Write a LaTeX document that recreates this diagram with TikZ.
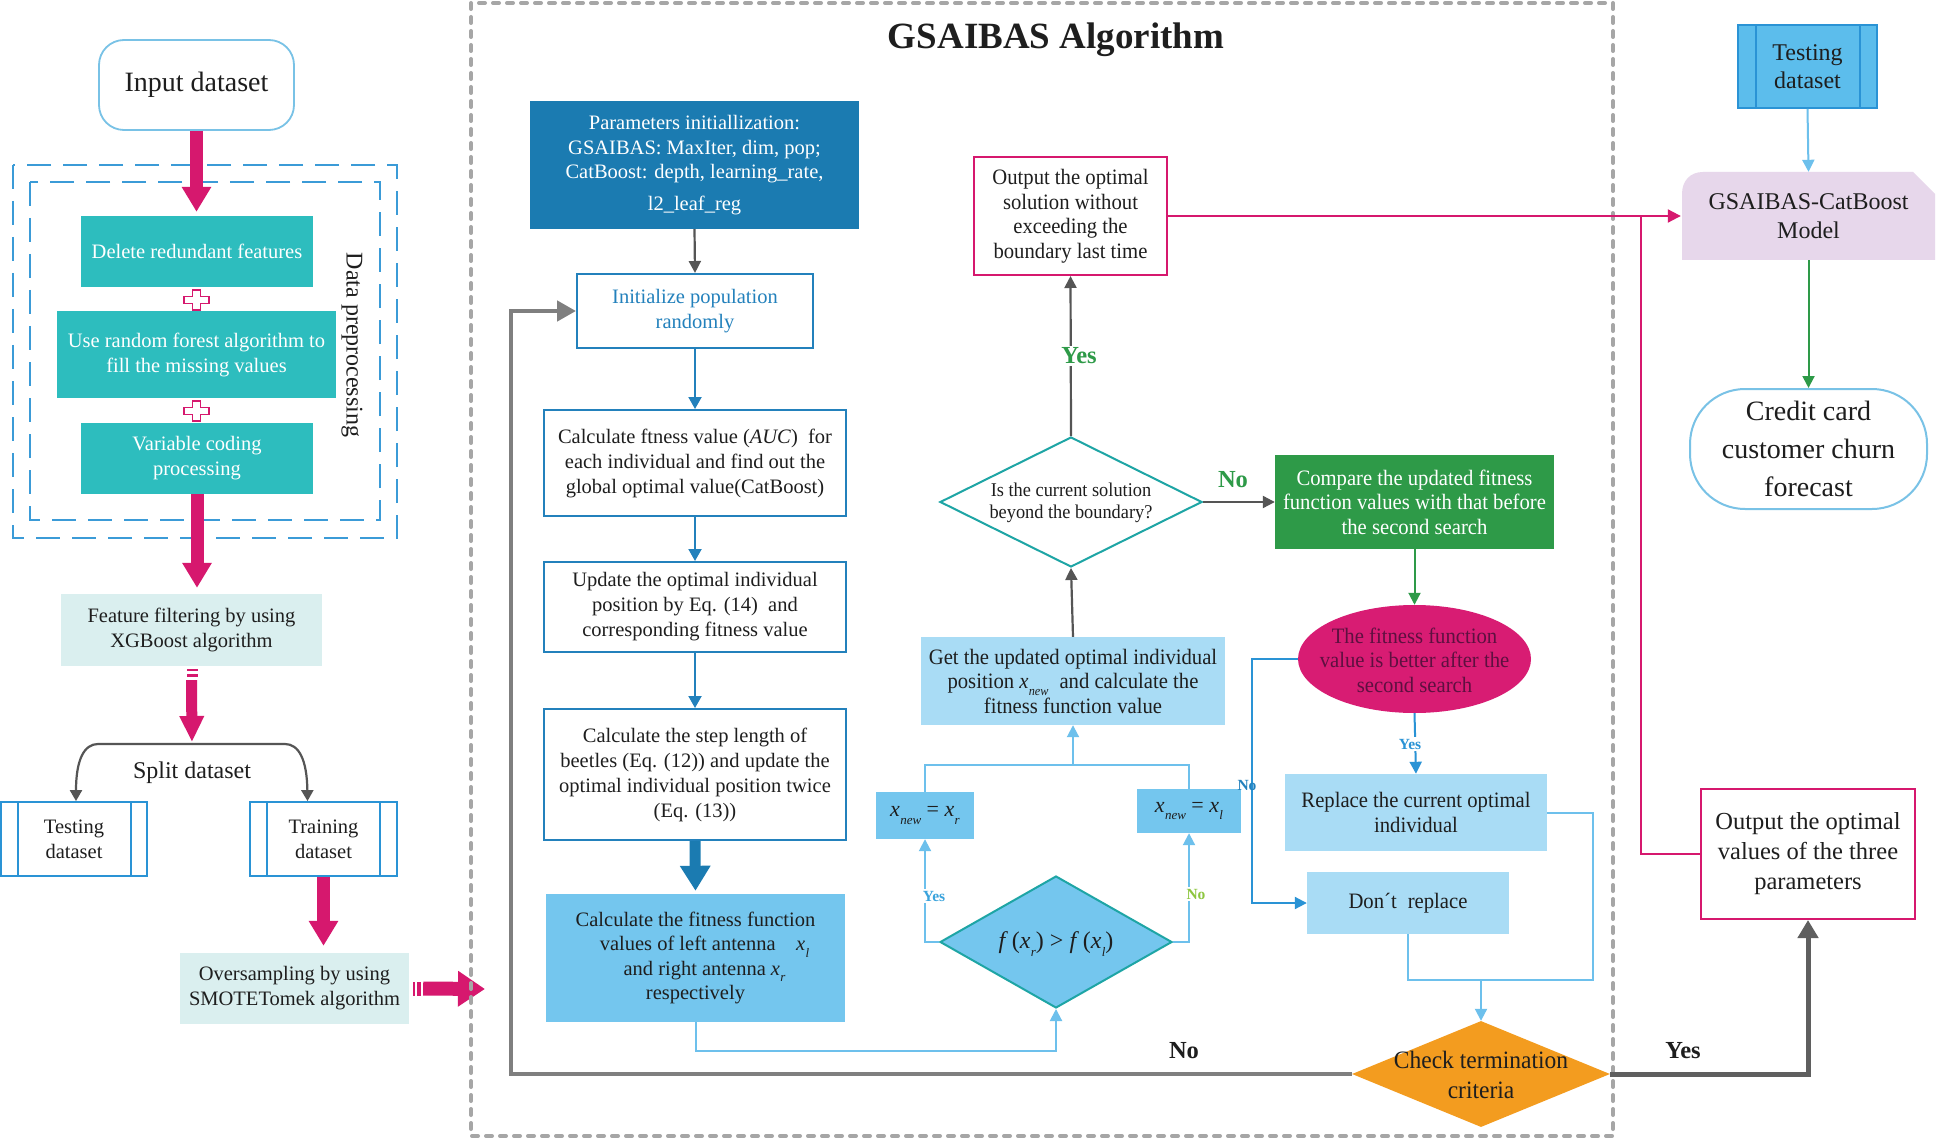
\documentclass[tikz,border=0pt]{standalone}
\usepackage{fontspec}
\setmainfont{Liberation Serif}
\newfontfamily\nfont[FakeStretch=0.94]{Liberation Serif}
\usetikzlibrary{arrows.meta,shapes.geometric,calc}
\definecolor{txt}{HTML}{1E1E1E}
\definecolor{mag}{HTML}{D6186E}
\definecolor{tealf}{HTML}{2DBDBE}
\definecolor{palef}{HTML}{DAEFEF}
\definecolor{bdashc}{HTML}{3B9BD7}
\definecolor{dblue}{HTML}{1B7BB1}
\definecolor{bord}{HTML}{2381BC}
\definecolor{sky}{HTML}{74C6EE}
\definecolor{lsky}{HTML}{A9DCF5}
\definecolor{lline}{HTML}{6DC0EC}
\definecolor{gthin}{HTML}{555555}
\definecolor{gloop}{HTML}{7F7F7F}
\definecolor{gright}{HTML}{5F5F5F}
\definecolor{grn}{HTML}{2E9A48}
\definecolor{orng}{HTML}{F39C1F}
\definecolor{lav}{HTML}{E7D7EB}
\definecolor{tealb}{HTML}{1EA5A5}
\definecolor{magE}{HTML}{D81C73}
\definecolor{ellT}{HTML}{5E1040}
\definecolor{lbord}{HTML}{79C2E6}
\definecolor{bord2}{HTML}{2A93D5}
\definecolor{sky2}{HTML}{5CBDEC}
\definecolor{ybl}{HTML}{3AA3DC}
\definecolor{nogr}{HTML}{8DC63F}
\definecolor{frameg}{HTML}{A6A6A6}
\newcommand\xsb[1]{\textit{x}\kern0.3pt\raisebox{-0.32em}{\fontsize{13}{13}\selectfont\itshape #1}}
\begin{document}
\begin{tikzpicture}[x=1pt,y=-1pt,
  every node/.style={inner sep=0pt, align=center, text=txt, font=\fontsize{20.5}{25}\selectfont},
  nf/.style={font=\nfont\fontsize{22}{24.5}\selectfont},
  tealbox/.style={fill=tealf, text=white},
  palebox/.style={fill=palef},
  procbox/.style={draw=bord2, line width=1.8pt, fill=white},
  wbox/.style={draw=bord, line width=2pt, fill=white, minimum width=302pt},
  bdash/.style={draw=bdashc, line width=1.8pt, dash pattern=on 24pt off 12pt},
  pk/.style={draw=mag, line width=13pt, -{Triangle[length=25pt,width=28pt]}},
  pks/.style={draw=mag, line width=11pt, -{Triangle[length=26pt,width=23pt]}},
  pkh/.style={draw=mag, line width=14pt, -{Triangle[length=27pt,width=34pt]}},
  garr/.style={draw=gthin, line width=2.2pt, -{Triangle[length=12pt,width=12pt]}},
  barr/.style={draw=bord, line width=2pt, -{Triangle[length=12pt,width=13pt]}},
  barrb/.style={draw=bord2, line width=2pt, -{Triangle[length=12pt,width=12pt]}},
  larr/.style={draw=lline, line width=2pt, -{Triangle[length=12pt,width=12pt]}},
  lpath/.style={draw=lline, line width=2pt},
  grarr/.style={draw=grn, line width=2pt, -{Triangle[length=12pt,width=12pt]}},
  marr/.style={draw=mag, line width=2pt, -{Triangle[length=13pt,width=13pt]}},
  mline/.style={draw=mag, line width=2pt},
  gthick/.style={draw=gloop, line width=4.5pt, -{Triangle[length=19pt,width=20pt]}},
  gthickr/.style={draw=gright, line width=5pt, -{Triangle[length=18pt,width=20pt]}},
  smalllab/.style={fill=white, inner sep=1.5pt, font=\bfseries\fontsize{15.5}{16}\selectfont},
  biglab/.style={font=\bfseries\fontsize{24.5}{26}\selectfont},
  plussign/.pic={\draw[draw=mag, line width=1.2pt, fill=white] (-4,-10) -- (4,-10) -- (4,-3.5) -- (12.5,-3.5) -- (12.5,3.5) -- (4,3.5) -- (4,10) -- (-4,10) -- (-4,3.5) -- (-12.5,3.5) -- (-12.5,-3.5) -- (-4,-3.5) -- cycle;}
]
\useasboundingbox[fill=white] (0,0) rectangle (1937,1139);

%% ---------------- left column ----------------
\draw[bdash] (13,165) rectangle (397,538);
\draw[bdash] (30,182) rectangle (380,520);
\node[rotate=-90, font=\fontsize{24}{28}\selectfont] (dp) at (352,345) {Data preprocessing};

\node[draw=lbord, line width=1.8pt, rounded corners=25pt, minimum width=195pt, minimum height=90pt, font=\fontsize{28}{32}\selectfont] (input) at (196.5,85) {Input dataset};
\node[tealbox, minimum width=232pt, minimum height=71pt] (del) at (197,251.5) {Delete redundant features};
\node[tealbox, minimum width=279pt, minimum height=87pt] (rf) at (196.5,354.5) {Use random forest algorithm to\\fill the missing values};
\node[tealbox, minimum width=232pt, minimum height=71pt] (var) at (197,458.5) {Variable coding\\processing};
\pic at (196.5,300) {plussign};
\pic at (196.5,411) {plussign};

\draw[pk, shorten >=4pt] (input.south) -- (input.south |- del.north);

\node[palebox, minimum width=261pt, minimum height=72pt] (feat) at (191.5,630) {Feature filtering by using\\XGBoost algorithm};
\draw[pk, shorten >=6pt] (var.south) -- (var.south |- feat.north);

\fill[mag] (186.5,669) rectangle (197.5,671);
\fill[mag] (186.5,674) rectangle (197.5,677);
\coordinate (splitc) at (192,744);

\node[procbox, minimum width=146pt, minimum height=74pt] (testL) at (74,839) {Testing\\dataset};
\draw[draw=bord2, line width=1.8pt] ([xshift=18pt]testL.north west) -- ([xshift=18pt]testL.south west);
\draw[draw=bord2, line width=1.8pt] ([xshift=-17pt]testL.north east) -- ([xshift=-17pt]testL.south east);
\node[procbox, minimum width=147pt, minimum height=74pt] (trainL) at (323.5,839) {Training\\dataset};
\draw[draw=bord2, line width=1.8pt] ([xshift=18pt]trainL.north west) -- ([xshift=18pt]trainL.south west);
\draw[draw=bord2, line width=1.8pt] ([xshift=-18pt]trainL.north east) -- ([xshift=-18pt]trainL.south east);

\draw[garr, -{Triangle[length=11pt,width=12pt]}] (splitc) -- (98,744) .. controls (84,744) and (76,760) .. ([xshift=2pt]testL.north);
\draw[garr, -{Triangle[length=11pt,width=12pt]}] (splitc) -- (285,744) .. controls (299,744) and (307,760) .. ([xshift=-16pt]trainL.north);
\draw[pks, shorten >=2pt] ([yshift=-14pt]feat.south) -- (splitc);
\node[font=\fontsize{24}{28}\selectfont] (splitlab) at (192,773) {Split dataset};

\node[palebox, minimum width=229pt, minimum height=71pt] (over) at (294.5,988.5) {Oversampling by using\\SMOTETomek algorithm};
\draw[pk, shorten >=7pt] (trainL.south) -- (trainL.south |- over.north);
\fill[mag] (413,982) rectangle (415,996);
\fill[mag] (417,982) rectangle (421,996);
\coordinate (mainin) at (485,989);
\draw[pkh] ([xshift=14pt]over.east) -- (mainin);

%% ---------------- main frame ----------------
\draw[draw=frameg, line width=4pt, dash pattern=on 6pt off 8pt, line cap=round] (471,3) rectangle (1613,1136);
\node[font=\bfseries\fontsize{37}{40}\selectfont] (title) at (1056,40) {GSAIBAS Algorithm};

\node[fill=dblue, text=white, minimum width=329pt, minimum height=128pt, font=\fontsize{20.5}{24.5}\selectfont] (param) at (694.5,165) {Parameters initiallization:\\GSAIBAS: MaxIter, dim, pop;\\CatBoost: depth, learning\_rate,\\[7pt]l2\_leaf\_reg};
\node[wbox, text=bord, minimum width=236pt, minimum height=74pt] (init) at (695,311) {Initialize population\\randomly};
\node[wbox, minimum height=106pt] (calc1) at (695,463) {Calculate ftness value (\textit{AUC})\enspace for\\each individual and find out the\\global optimal value(CatBoost)};
\node[wbox, minimum height=90pt] (upd) at (695,607) {Update the optimal individual\\position by Eq. (14)\enspace and\\corresponding fitness value};
\node[wbox, minimum height=131pt] (step) at (695,774.5) {Calculate the step length of\\beetles (Eq. (12)) and update the\\optimal individual position twice\\(Eq. (13))};
\node[fill=sky, minimum width=299pt, minimum height=128pt, font=\fontsize{20.5}{24.5}\selectfont] (calcf) at (695.5,958) {Calculate the fitness function\\\hspace*{18pt}values of left antenna\quad\xsb{l}\\\hspace*{18pt}and right antenna \xsb{r}\\respectively};

\draw[garr] (param.south) -- (init.north);
\draw[barr] (init.south) -- (calc1.north);
\draw[barr] (calc1.south) -- (upd.north);
\draw[barr] (upd.south) -- (step.north);
\draw[draw=dblue, line width=11pt, -{Triangle[length=25pt,width=29pt]}, shorten >=3pt] (step.south) -- (calcf.north);

% f diamond and x boxes
\node[diamond, draw=tealb, line width=2pt, fill=sky, minimum width=232pt, minimum height=132pt] (fd) at (1056,942) {};
\node[font=\fontsize{24}{26}\selectfont] (fdt) at (1056,944) {\textit{f}\,(\xsb{r}) > \textit{f}\,(\xsb{l})};
\node[fill=sky, minimum width=98pt, minimum height=47pt, font=\fontsize{22}{24}\selectfont] (xr) at (925,815.5) {\xsb{new} = \xsb{r}};
\node[fill=sky, minimum width=104pt, minimum height=44pt, font=\fontsize{22}{24}\selectfont] (xl) at (1189,811) {\xsb{new} = \xsb{l}};
\node[fill=lsky, minimum width=304pt, minimum height=88pt, nf] (getu) at (1073,681) {Get the updated optimal individual\\position \xsb{new}\enspace and calculate the\\fitness function value};

\draw[lpath, -{Triangle[length=12pt,width=12pt]}] (calcf.south) -- ++(0,29) -| (fd.south);
\draw[larr] (fd.west) -| (xr.south);
\node[smalllab, text=ybl] (yes1) at (934,896) {Yes};
\draw[larr] (fd.east) -| (xl.south);
\node[smalllab, text=nogr] (no1) at (1196,894) {No};
\coordinate (mj) at (1073,765);
\draw[lpath, line width=1.6pt] (xr.north) -- ++(0,-27) -| (xl.north);
\draw[larr] (mj) -- (getu.south);

% boundary diamond
\node[diamond, draw=tealb, line width=2pt, fill=white, minimum width=262pt, minimum height=130pt] (bd) at (1071,502) {};
\node[font=\nfont\fontsize{19.5}{22}\selectfont] (bdt) at (1071,503) {Is the current solution\\beyond the boundary?};
\node[draw=mag, line width=2pt, fill=white, minimum width=193pt, minimum height=118pt, nf] (outs) at (1070.5,216) {Output the optimal\\solution without\\exceeding the\\boundary last time};
\node[fill=grn, text=white, minimum width=279pt, minimum height=94pt, nf] (comp) at (1414.5,502) {Compare the updated fitness\\function values with that before\\the second search};

\draw[garr] (getu.north) -- (bd.south);
\draw[garr] (bd.north) -- (outs.south);
\node[biglab, text=grn, fill=white, inner sep=2pt] (yes2) at (1079,356) {Yes};
\draw[garr] (bd.east) -- (comp.west);
\node[biglab, text=grn] (no2) at (1233,480) {No};

% ellipse and replace boxes
\node[ellipse, fill=magE, minimum width=233pt, minimum height=108pt] (ell) at (1414.5,659) {};
\node[nf, text=ellT] (ellt) at (1414.5,660) {The fitness function\\value is better after the\\second search};
\draw[grarr] (comp.south) -- (ell.north);
\node[fill=lsky, minimum width=262pt, minimum height=77pt, nf] (repl) at (1416,812.5) {Replace the current optimal\\individual};
\node[fill=lsky, minimum width=202pt, minimum height=62pt, nf] (dont) at (1408,903) {Don\char"00B4t\enspace replace};
\draw[barrb] (ell.south) -- (repl.north);
\node[smalllab, text=bord2] (yes3) at (1410,744) {Yes};
\draw[barrb] (ell.west) -- ++(-46,0) |- (dont.west);
\node[smalllab, text=bord, fill=none] (no3) at (1247,785) {No};

% check termination
\node[diamond, fill=orng, minimum width=258pt, minimum height=106pt] (chk) at (1481,1074) {};
\node[font=\nfont\fontsize{25}{30}\selectfont] (chkt) at (1481,1075) {Check termination\\criteria};
\coordinate (mrg) at (1481,980);
\draw[lpath] (repl.east) -- ++(46,0) |- (mrg);
\draw[lpath] (dont.south) |- (mrg);
\draw[larr] (mrg) -- (chk.north);

\draw[gthick] (chk.west) -- ++(-841,0) |- (init.west);
\node[biglab] (no4) at (1184,1051) {No};

%% ---------------- right column ----------------
\node[fill=sky2, draw=bord2, line width=1.8pt, minimum width=139pt, minimum height=83pt, font=\fontsize{24}{28}\selectfont] (testR) at (1807.5,66.5) {Testing\\dataset};
\draw[draw=bord2, line width=1.8pt] ([xshift=19pt]testR.north west) -- ([xshift=19pt]testR.south west);
\draw[draw=bord2, line width=1.8pt] ([xshift=-18pt]testR.north east) -- ([xshift=-18pt]testR.south east);

\fill[lav] (1682,260) -- (1682,194) .. controls (1682,181) and (1690,172) .. (1703,172) -- (1913,172) -- (1935,194) -- (1935,260) -- cycle;
\node[minimum width=253pt, minimum height=88pt, font=\fontsize{24}{29}\selectfont] (model) at (1808.5,216) {GSAIBAS-CatBoost\\Model};
\node[draw=lbord, line width=2pt, rounded corners=55pt, minimum width=237pt, minimum height=120pt, font=\fontsize{28}{38}\selectfont] (credit) at (1808.5,449) {Credit card\\customer churn\\forecast};
\node[draw=mag, line width=2pt, fill=white, minimum width=214pt, minimum height=130pt, font=\fontsize{24.5}{30}\selectfont] (outv) at (1808,854) {Output the optimal\\values of the three\\parameters};

\draw[larr] (testR.south) -- (model.north);
\draw[grarr] (model.south) -- (credit.north);
\draw[marr, shorten >=1pt] (outs.east) -- (model.west);
\coordinate (mj2) at (1641,216);
\draw[mline] (outv.west) -| (mj2);

\draw[gthickr] (chk.east) -| (outv.south);
\node[biglab] (yes4) at (1683,1051) {Yes};
\end{tikzpicture}
\end{document}
